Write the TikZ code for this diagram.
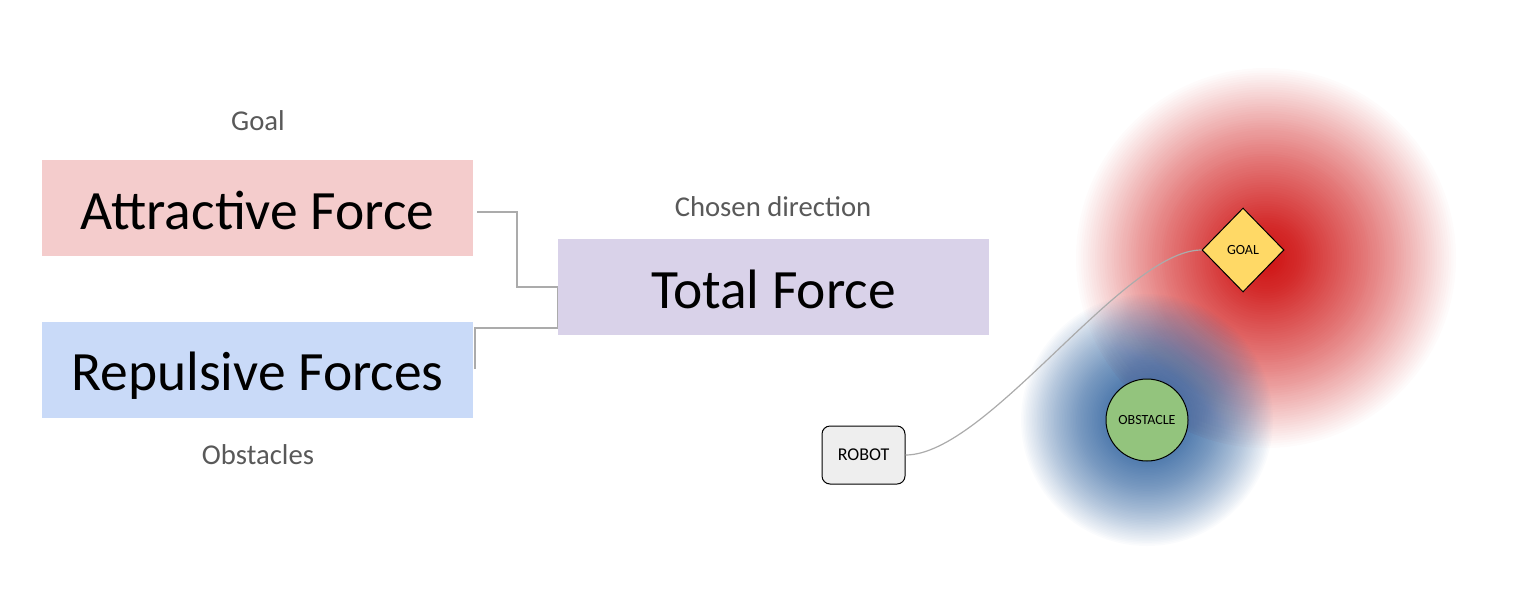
\documentclass[tikz,border=0pt]{standalone}
\usepackage{fontspec}
\setmainfont{Carlito}
\usetikzlibrary{shapes.geometric}
\definecolor{attr}{HTML}{F4CCCC}
\definecolor{repu}{HTML}{C9DAF8}
\definecolor{tot}{HTML}{D9D2E9}
\definecolor{lbl}{HTML}{595959}
\definecolor{conn}{HTML}{ABABAB}
\definecolor{robotfill}{HTML}{EEEEEE}
\definecolor{goalfill}{HTML}{FFD966}
\definecolor{obsfill}{HTML}{93C47D}
\definecolor{redblob}{HTML}{CF1414}
\definecolor{blueblob}{HTML}{3A6AA3}
\tikzset{
  bigbox/.style={minimum width=431pt, minimum height=96pt, inner sep=0pt, text height=42pt, text depth=0pt, font=\fontsize{55.5}{60}\selectfont},
  caption/.style={text=lbl, anchor=base, inner sep=0pt, font=\fontsize{28.7}{32}\selectfont},
  connector/.style={draw=conn, line width=1.3pt},
  smalltext/.style={font=\fontsize{14}{16}\selectfont},
}
\begin{document}
\begin{tikzpicture}[x=1pt,y=-1pt]
\useasboundingbox (0,0) rectangle (1515,598);
% blobs: stacked translucent discs give a soft fade to the rim
\foreach \k [evaluate=\k as \op using 1-((\k-1)/\k)^1.3, evaluate=\k as \rr using 190*\k/80] in {80,79,...,2}
  \fill[redblob, fill opacity=\op] (1266,258) circle (\rr);
\fill[redblob] (1266,258) circle (190/80);
\foreach \k [evaluate=\k as \op using 1-((\k-1)/\k)^1.8, evaluate=\k as \rr using 126*\k/80] in {80,79,...,2}
  \fill[blueblob, fill opacity=\op] (1147,420) circle (\rr);
% boxes
\node[bigbox, fill=attr] (attr) at (257.5,208) {Attractive Force};
\node[bigbox, fill=repu] (rep) at (257.5,369.5) {Repulsive Forces};
\node[bigbox, fill=tot] (tot) at (773.5,287) {Total Force};
\node[caption] (goallbl) at (258,130) {Goal};
\node[caption] (oblbl) at (258,464) {Obstacles};
\node[caption] (chlbl) at (773,216) {Chosen direction};
% connectors
\coordinate (a1) at (477,212);
\coordinate (r1) at (475,369);
\draw[connector] (a1) -- (517,212) |- (tot.west);
\draw[connector] (r1) |- (tot.west |- 0,328) -- (tot.west);
% right side
\node[draw=black, line width=1pt, fill=robotfill, rounded corners=8pt, minimum width=83pt, minimum height=58pt, font=\fontsize{18}{20}\selectfont] (robot) at (863.5,455) {ROBOT};
\node[draw=black, line width=1pt, fill=goalfill, diamond, minimum width=82pt, minimum height=84pt, inner sep=0pt, smalltext] (goal) at (1243,250) {GOAL};
\node[draw=black, line width=1pt, fill=obsfill, circle, minimum size=82pt, inner sep=0pt, smalltext] (obs) at (1147,420) {OBSTACLE};
\draw[draw=conn, line width=1.2pt] (robot.east) .. controls +(82,0) and +(-78,0) .. (goal.west);
\end{tikzpicture}
\end{document}
